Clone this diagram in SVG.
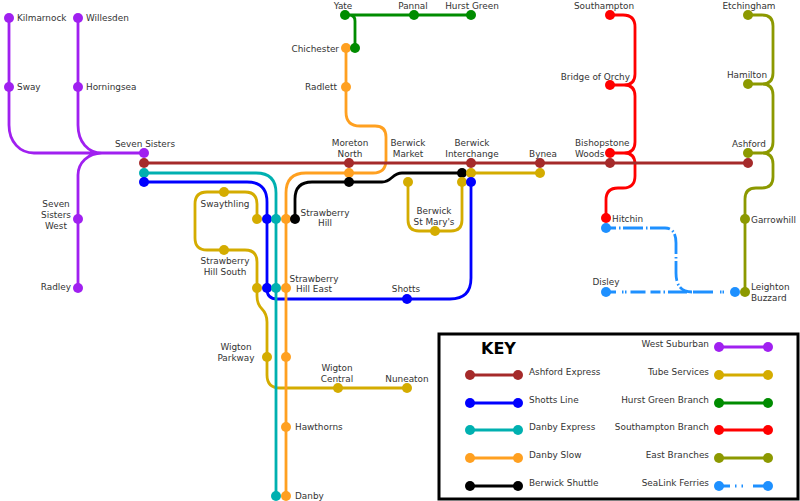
<svg xmlns="http://www.w3.org/2000/svg" width="800" height="501" viewBox="0 0 800 501">
<style>
text{font-family:"DejaVu Sans",sans-serif;font-size:8.9px;fill:#333}
.m{text-anchor:middle}.e{text-anchor:end}
.l{fill:none;stroke-width:2.8}
.purple{stroke:#a020f0}.brown{stroke:#a52a2a}.blue{stroke:#0000ff}.teal{stroke:#00b0b0}.orange{stroke:#ffa020}.black{stroke:#000}.tube{stroke:#d4ac00}.green{stroke:#008c00}.red{stroke:#ff0000}.olive{stroke:#8c9900}.sea{stroke:#1e90ff}
.fpurple{fill:#a020f0}.fbrown{fill:#a52a2a}.fblue{fill:#0000ff}.fteal{fill:#00b0b0}.forange{fill:#ffa020}.fblack{fill:#000}.ftube{fill:#d4ac00}.fgreen{fill:#008c00}.fred{fill:#ff0000}.folive{fill:#8c9900}.fsea{fill:#1e90ff}
</style>
<defs><circle id="s" r="5"/></defs>
<g id="connectors">
<path class="l purple" d="M9 18V125C9 142 20 153 34 153H144M78 18V125C78 142 88 153 102 153M78 288V175C78 163 88 153 102 153"/>
<path class="l green" d="M345 15H471M355 48V21Q355 15 349 15"/>
<path class="l red" d="M610 15H623Q635 15 635 27V74Q635 85 624 85H610M624 85Q635 85 635 96V142Q635 153 624 153H610M624 153Q635 153 635 164V176Q635 188 623 188H618Q606 188 606 200V218"/>
<path class="l olive" d="M748 15H762Q773 15 773 26V73Q773 84 762 84H748M762 84Q773 84 773 95V142Q773 153 762 153H748M762 153Q773 153 773 164V177Q773 188 762 188H756Q745 188 745 199V292"/>
<path class="l sea" stroke-dasharray="20 3 1.500 2.500" stroke-dashoffset="10" d="M606 228H665Q676 228 676 243V273Q676 292 692 292"/>
<path class="l sea" stroke-dasharray="10 6 1.500 1.500 1.500 4 15 5 10 3 1.500 3 19 6 20 7 1.500 1 1.500 8" d="M606 292H735"/>
<path class="l tube" d="M408 182V220Q408 231 419 231H451Q462 231 462 220V182M471 173H540"/>
<path class="l tube" d="M257 219V204Q257 192 245 192H207Q195 192 195 204V238Q195 250 207 250H245Q257 250 257 262V296Q257 304 262 309Q267 314 267 322V375Q267 388 280 388H407"/>
<path class="l blue" d="M144 182H247Q267 182 267 202V289Q267 299 277 299H450Q471 299 471 278V182"/>
<path class="l teal" d="M144 173H256Q276 173 276 193V496"/>
<path class="l orange" d="M346 48V112Q346 126 360 126H375Q386 126 386 137V160Q386 173 373 173H306Q286 173 286 193V496"/>
<path class="l black" d="M295 219V199Q295 182 312 182H382C392 182 392 173 402 173H462"/>
<path class="l brown" d="M144 163H748"/>
</g>
<g id="kilmarnock"><use href="#s" x="9" y="18" class="fpurple"/><text x="17" y="21">Kilmarnock</text></g>
<g id="sway"><use href="#s" x="9" y="87" class="fpurple"/><text x="17" y="90">Sway</text></g>
<g id="willesden"><use href="#s" x="78" y="18" class="fpurple"/><text x="86" y="21">Willesden</text></g>
<g id="horningsea"><use href="#s" x="78" y="87" class="fpurple"/><text x="86" y="90">Horningsea</text></g>
<g id="seven-sisters"><use href="#s" x="144" y="153" class="fpurple"/><use href="#s" x="144" y="163" class="fbrown"/><use href="#s" x="144" y="173" class="fteal"/><use href="#s" x="144" y="182" class="fblue"/><text x="145" y="147" class="m">Seven Sisters</text></g>
<g id="seven-sisters-west"><use href="#s" x="78" y="219" class="fpurple"/><text class="m" x="56" y="207">Seven</text><text class="m" x="56" y="218">Sisters</text><text class="m" x="56" y="229">West</text></g>
<g id="radley"><use href="#s" x="78" y="288" class="fpurple"/><text x="71" y="290" class="e">Radley</text></g>
<g id="swaythling"><use href="#s" x="224" y="192" class="ftube"/><text x="225" y="207" class="m">Swaythling</text></g>
<g id="strawberry-hill"><use href="#s" x="257" y="219" class="ftube"/><use href="#s" x="267" y="219" class="fblue"/><use href="#s" x="276" y="219" class="fteal"/><use href="#s" x="286" y="219" class="forange"/><use href="#s" x="295" y="219" class="fblack"/><text x="325" y="215.500" class="m">Strawberry</text><text x="325" y="226" class="m">Hill</text></g>
<g id="strawberry-hill-south"><use href="#s" x="224" y="250" class="ftube"/><text x="225" y="264" class="m">Strawberry</text><text x="225" y="274.500" class="m">Hill South</text></g>
<g id="strawberry-hill-east"><use href="#s" x="257" y="288" class="ftube"/><use href="#s" x="267" y="288" class="fblue"/><use href="#s" x="276" y="288" class="fteal"/><use href="#s" x="286" y="288" class="forange"/><text x="314" y="281.500" class="m">Strawberry</text><text x="314" y="292" class="m">Hill East</text></g>
<g id="shotts"><use href="#s" x="407" y="299" class="fblue"/><text x="406" y="292" class="m">Shotts</text></g>
<g id="wigton-parkway"><use href="#s" x="267" y="357" class="ftube"/><use href="#s" x="286" y="357" class="forange"/><text x="236" y="350" class="m">Wigton</text><text x="236" y="361" class="m">Parkway</text></g>
<g id="wigton-central"><use href="#s" x="338" y="388" class="ftube"/><text x="337" y="371" class="m">Wigton</text><text x="337" y="382" class="m">Central</text></g>
<g id="nuneaton"><use href="#s" x="407" y="388" class="ftube"/><text x="407" y="382" class="m">Nuneaton</text></g>
<g id="hawthorns"><use href="#s" x="286" y="427" class="forange"/><text x="295" y="430">Hawthorns</text></g>
<g id="danby"><use href="#s" x="276" y="496" class="fteal"/><use href="#s" x="286" y="496" class="forange"/><text x="295" y="499">Danby</text></g>
<g id="yate"><use href="#s" x="345" y="15" class="fgreen"/><text x="343" y="9" class="m">Yate</text></g>
<g id="pannal"><use href="#s" x="414" y="15" class="fgreen"/><text x="413" y="9" class="m">Pannal</text></g>
<g id="hurst-green"><use href="#s" x="471" y="15" class="fgreen"/><text x="472" y="9" class="m">Hurst Green</text></g>
<g id="chichester"><use href="#s" x="346" y="48" class="forange"/><use href="#s" x="355" y="48" class="fgreen"/><text x="339" y="51.500" class="e">Chichester</text></g>
<g id="radlett"><use href="#s" x="346" y="87" class="forange"/><text x="337" y="90" class="e">Radlett</text></g>
<g id="moreton-north"><use href="#s" x="349" y="163" class="fbrown"/><use href="#s" x="349" y="173" class="forange"/><use href="#s" x="349" y="182" class="fblack"/><text x="350" y="146" class="m">Moreton</text><text x="350" y="157" class="m">North</text></g>
<g id="berwick-market"><use href="#s" x="408" y="182" class="ftube"/><text x="408" y="146" class="m">Berwick</text><text x="408" y="157" class="m">Market</text></g>
<g id="berwick-interchange"><use href="#s" x="471" y="163" class="fbrown"/><use href="#s" x="462" y="173" class="fblack"/><use href="#s" x="471" y="173" class="ftube"/><use href="#s" x="462" y="182" class="ftube"/><use href="#s" x="471" y="182" class="fblue"/><text x="472" y="146" class="m">Berwick</text><text x="472" y="157" class="m">Interchange</text></g>
<g id="berwick-st-marys"><use href="#s" x="435" y="231" class="ftube"/><text x="434" y="213.500" class="m">Berwick</text><text x="434" y="224.500" class="m">St Mary's</text></g>
<g id="bynea"><use href="#s" x="540" y="163" class="fbrown"/><use href="#s" x="540" y="173" class="ftube"/><text x="543" y="157" class="m">Bynea</text></g>
<g id="southampton"><use href="#s" x="610" y="15" class="fred"/><text x="604" y="9" class="m">Southampton</text></g>
<g id="bridge-of-orchy"><use href="#s" x="610" y="85" class="fred"/><text x="630" y="79.500" class="e">Bridge of Orchy</text></g>
<g id="bishopstone-woods"><use href="#s" x="610" y="153" class="fred"/><use href="#s" x="610" y="163" class="fbrown"/><text x="575" y="146">Bishopstone</text><text x="575" y="157">Woods</text></g>
<g id="hitchin"><use href="#s" x="606" y="218" class="fred"/><use href="#s" x="606" y="228" class="fsea"/><text x="612" y="221.500">Hitchin</text></g>
<g id="disley"><use href="#s" x="606" y="292" class="fsea"/><text x="606" y="285" class="m">Disley</text></g>
<g id="etchingham"><use href="#s" x="748" y="15" class="folive"/><text x="749" y="9" class="m">Etchingham</text></g>
<g id="hamilton"><use href="#s" x="748" y="84" class="folive"/><text x="747" y="78" class="m">Hamilton</text></g>
<g id="ashford"><use href="#s" x="748" y="153" class="folive"/><use href="#s" x="748" y="163" class="fbrown"/><text x="749" y="147" class="m">Ashford</text></g>
<g id="garrowhill"><use href="#s" x="745" y="219" class="folive"/><text x="751" y="223">Garrowhill</text></g>
<g id="leighton-buzzard"><use href="#s" x="735" y="292" class="fsea"/><use href="#s" x="745" y="292" class="folive"/><text x="751" y="289.500">Leighton</text><text x="751" y="301">Buzzard</text></g>
<g id="key">
<rect x="439" y="334" width="359" height="165" fill="#fff" stroke="#000" stroke-width="3"/>
<text x="481" y="354" style="font-size:16px;font-weight:bold;fill:#000">KEY</text>
<path class="l brown" d="M470 375H518"/><use href="#s" x="470" y="375" class="fbrown"/><use href="#s" x="518" y="375" class="fbrown"/><text x="529" y="375">Ashford Express</text>
<path class="l blue" d="M470 403H518"/><use href="#s" x="470" y="403" class="fblue"/><use href="#s" x="518" y="403" class="fblue"/><text x="529" y="403">Shotts Line</text>
<path class="l teal" d="M470 430H518"/><use href="#s" x="470" y="430" class="fteal"/><use href="#s" x="518" y="430" class="fteal"/><text x="529" y="430">Danby Express</text>
<path class="l orange" d="M470 458H518"/><use href="#s" x="470" y="458" class="forange"/><use href="#s" x="518" y="458" class="forange"/><text x="529" y="458">Danby Slow</text>
<path class="l black" d="M470 486H518"/><use href="#s" x="470" y="486" class="fblack"/><use href="#s" x="518" y="486" class="fblack"/><text x="529" y="486">Berwick Shuttle</text>
<path class="l purple" d="M719 347H768"/><use href="#s" x="719" y="347" class="fpurple"/><use href="#s" x="768" y="347" class="fpurple"/><text x="709" y="347" class="e">West Suburban</text>
<path class="l tube" d="M719 375H768"/><use href="#s" x="719" y="375" class="ftube"/><use href="#s" x="768" y="375" class="ftube"/><text x="709" y="375" class="e">Tube Services</text>
<path class="l green" d="M719 403H768"/><use href="#s" x="719" y="403" class="fgreen"/><use href="#s" x="768" y="403" class="fgreen"/><text x="709" y="403" class="e">Hurst Green Branch</text>
<path class="l red" d="M719 430H768"/><use href="#s" x="719" y="430" class="fred"/><use href="#s" x="768" y="430" class="fred"/><text x="709" y="430" class="e">Southampton Branch</text>
<path class="l olive" d="M719 458H768"/><use href="#s" x="719" y="458" class="folive"/><use href="#s" x="768" y="458" class="folive"/><text x="709" y="458" class="e">East Branches</text>
<path class="l sea" stroke-dasharray="11 5 1.500 5 1.500 10 15" d="M719 486H768"/><use href="#s" x="719" y="486" class="fsea"/><use href="#s" x="768" y="486" class="fsea"/><text x="709" y="486" class="e">SeaLink Ferries</text>
</g>
</svg>
